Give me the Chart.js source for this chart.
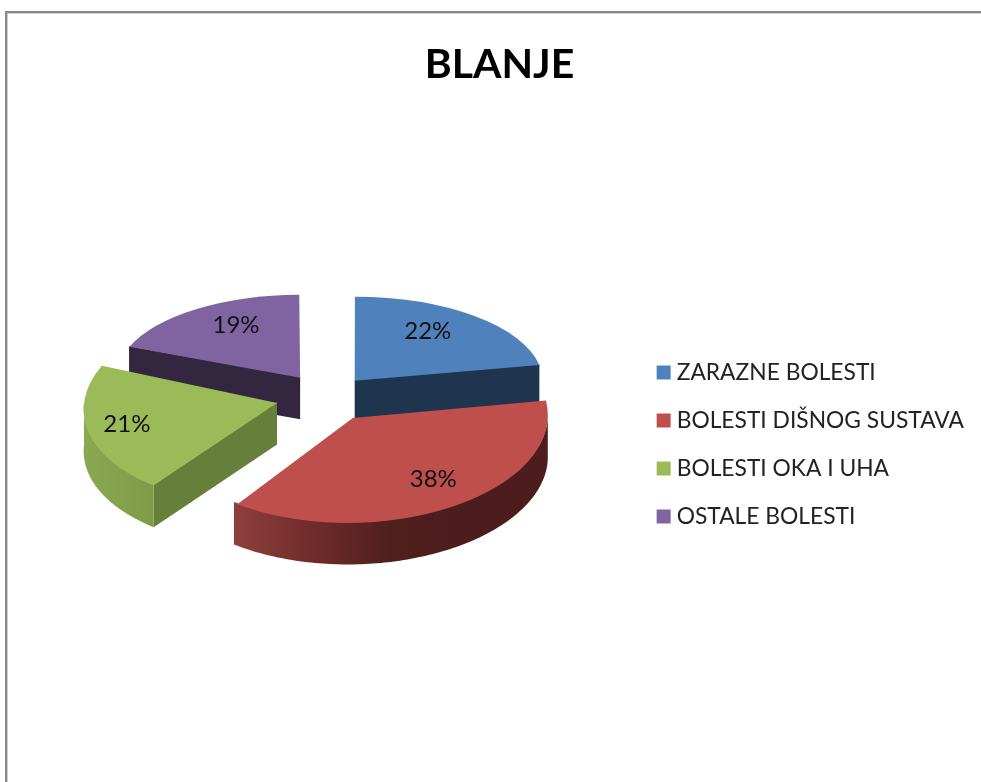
<!DOCTYPE html>
<html>
<head>
<meta charset="utf-8">
<title>BLANJE</title>
<script src="https://cdn.jsdelivr.net/npm/chart.js@4/dist/chart.umd.min.js"></script>
<style>
    html, body { margin: 0; padding: 0; background: #fff; }
    #wrap { position: relative; width: 981px; height: 782px; overflow: hidden; }
    #frame {
        position: absolute; left: 5px; top: 11px; width: 990px; height: 800px;
        border-left: 2px solid #888; border-top: 2px solid #888;
        box-shadow: inset 1px 1px 0 #ccc;
    }
    canvas { position: absolute; left: 0; top: 0; }
</style>
</head>
<body>
<div id="wrap">
    <div id="frame"></div>
    <canvas id="pie" width="981" height="782"></canvas>
</div>
<script>
const categories = ['ZARAZNE BOLESTI', 'BOLESTI DIŠNOG SUSTAVA', 'BOLESTI OKA I UHA', 'OSTALE BOLESTI'];
const shares = [22, 38, 21, 19];

const topColors = ['#4f81bd', '#be4f4c', '#9bbb59', '#8064a2'];
const cutColors = ['#1f344e', '#4f1f1e', '#667f3a', '#33273f'];
// rim shading left to right, only the red and green slices show a rim
const rimStops = [
    ['#1f344e', '#1f344e'],
    ['#8f3f3d', '#6f2c2a', '#4f1f1e', '#4c1d1c', '#4c1d1c'],
    ['#8aa851', '#7f9b47'],
    ['#33273f', '#33273f']
];

// explosion distance and per slice ellipse shape (fake perspective)
const explode = [45, 50, 51, 46];
const tilt = [0.44, 0.52, 0.5, 0.48];
const radiusX = [188, 195, 193, 184];
const radiusY = [84, 105, 102, 83];
const shear = [0, -0.05, -0.12, 0];
const labelReachX = [0.61, 0.77, 0.81, 0.62];
const labelReachY = [0.77, 0.69, 0.74, 0.77];

const pieX = 326, pieY = 396, depth = 41.5;
const wallOrder = [3, 0, 2, 1];

// where the tip of a slice ends up on the page
function tipOf(el, i) {
    const mid = (el.startAngle + el.endAngle) / 2;
    const off = el.options.offset / 4;
    return { x: pieX + Math.cos(mid) * off, y: pieY + Math.sin(mid) * off * tilt[i] };
}

function rimPoint(tip, a, i) {
    const dy = Math.sin(a) * radiusY[i];
    return { x: tip.x + Math.cos(a) * radiusX[i] + shear[i] * dy, y: tip.y + dy };
}

function drawWalls(ctx, el, i) {
    const tip = tipOf(el, i);

    // flat cut faces, only the ones that look towards the viewer
    // they start 1px higher so no seam shows under the top face
    ctx.fillStyle = cutColors[i];
    [[el.startAngle, -1], [el.endAngle, 1]].forEach(function(edge) {
        if (Math.cos(edge[0]) * edge[1] <= 0.001) return;
        const p = rimPoint(tip, edge[0], i);
        ctx.beginPath();
        ctx.moveTo(tip.x, tip.y - 1);
        ctx.lineTo(p.x, p.y - 1);
        ctx.lineTo(p.x, p.y + depth);
        ctx.lineTo(tip.x, tip.y + depth);
        ctx.closePath();
        ctx.fill();
    });

    // round rim, only the part that faces the viewer
    const from = Math.max(el.startAngle, 0);
    const to = Math.min(el.endAngle, Math.PI);
    if (to <= from) return;
    const pts = [];
    for (let a = from; a < to; a += 0.02) pts.push(rimPoint(tip, a, i));
    pts.push(rimPoint(tip, to, i));
    const xs = pts.map(function(p) { return p.x; });
    const grad = ctx.createLinearGradient(Math.min.apply(null, xs), 0, Math.max.apply(null, xs), 0);
    rimStops[i].forEach(function(c, n, all) {
        grad.addColorStop(n / (all.length - 1), c);
    });
    ctx.fillStyle = grad;
    ctx.beginPath();
    pts.forEach(function(p, n) {
        if (n === 0) ctx.moveTo(p.x, p.y - 1);
        else ctx.lineTo(p.x, p.y - 1);
    });
    pts.slice().reverse().forEach(function(p) { ctx.lineTo(p.x, p.y + depth); });
    ctx.closePath();
    ctx.fill();
}

function drawTop(ctx, el, i) {
    const mid = (el.startAngle + el.endAngle) / 2;
    const off = el.options.offset / 4;
    // ArcElement grows its radius a bit when it is offset
    const grow = off * (1 - Math.sin(Math.min(Math.PI, el.circumference)));
    const r = el.outerRadius + grow;
    const tip = tipOf(el, i);
    ctx.save();
    ctx.translate(tip.x, tip.y);
    ctx.transform(1, 0, shear[i], 1, 0, 0);
    ctx.scale(radiusX[i] / r, radiusY[i] / r);
    ctx.translate(-(el.x + Math.cos(mid) * off), -(el.y + Math.sin(mid) * off));
    el.draw(ctx);
    ctx.restore();
}

const pie3d = {
    id: 'pie3d',
    beforeDatasetsDraw: function(chart) {
        const ctx = chart.ctx;
        const arcs = chart.getDatasetMeta(0).data;
        wallOrder.forEach(function(i) { drawWalls(ctx, arcs[i], i); });
        arcs.forEach(function(el, i) { drawTop(ctx, el, i); });

        ctx.save();
        ctx.fillStyle = '#111';
        ctx.font = '24px Lato';
        ctx.textAlign = 'center';
        ctx.textBaseline = 'middle';
        arcs.forEach(function(el, i) {
            const mid = (el.startAngle + el.endAngle) / 2;
            const tip = tipOf(el, i);
            ctx.fillText(shares[i] + '%',
                tip.x + Math.cos(mid) * radiusX[i] * labelReachX[i],
                tip.y + Math.sin(mid) * radiusY[i] * labelReachY[i]);
        });
        ctx.restore();
        return false;
    }
};

new Chart(document.getElementById('pie'), {
    type: 'pie',
    data: {
        labels: categories,
        datasets: [{
            data: shares,
            backgroundColor: topColors,
            borderWidth: 0,
            offset: explode.map(function(d) { return d * 4; })
        }]
    },
    options: {
        responsive: false,
        animation: false,
        radius: 100,
        layout: { padding: { left: 25, top: 40, right: 7, bottom: 0 } },
        plugins: {
            tooltip: { enabled: false },
            title: {
                display: true,
                text: 'BLANJE',
                color: '#000',
                font: { family: 'Lato', size: 41, weight: 'bold' },
                padding: { top: 0, bottom: 18 }
            },
            legend: {
                position: 'right',
                fullSize: false,
                labels: {
                    color: '#222',
                    font: { family: 'Lato', size: 22.8 },
                    boxWidth: 3.2,
                    boxHeight: 3.2,
                    padding: 25.2,
                    // thick outline so the swatch sits as close to the text as in the original
                    generateLabels: function(chart) {
                        return Chart.overrides.pie.plugins.legend.labels.generateLabels(chart).map(function(item) {
                            item.strokeStyle = item.fillStyle;
                            item.lineWidth = 10.8;
                            return item;
                        });
                    }
                }
            }
        }
    },
    plugins: [pie3d]
});
</script>
</body>
</html>
